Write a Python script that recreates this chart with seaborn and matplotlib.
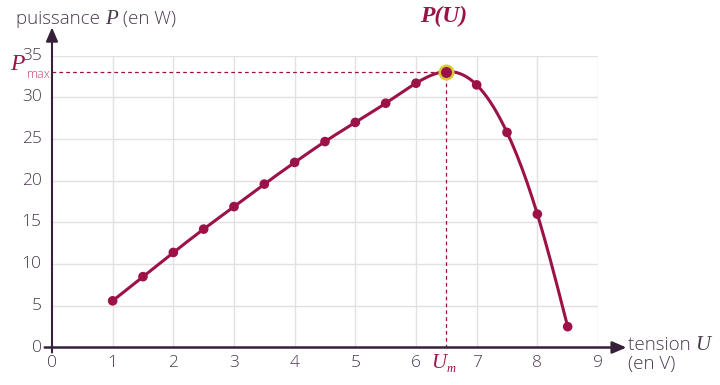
import numpy as np
import pandas as pd
import matplotlib
matplotlib.use("Agg")
import matplotlib.pyplot as plt
import seaborn as sns

# data
tension = [1, 1.5, 2, 2.5, 3, 3.5, 4, 4.5, 5, 5.5, 6, 6.5, 7, 7.5, 8, 8.5]
puissance = [5.6, 8.5, 11.4, 14.2, 16.9, 19.6, 22.2, 24.7, 27.0, 29.3, 31.7, 33.1, 31.5, 25.8, 16.0, 2.5]
u_max = 6.5
p_max = 33.1
x_ticks = [0, 1, 2, 3, 4, 5, 6, 7, 8, 9]
y_ticks = [0, 5, 10, 15, 20, 25, 30, 35]

crimson = "#9c1248"
txt = "#4a3a4e"
axis_col = "#35213a"
grid_col = "#e4e0e4"
serif = "Liberation Serif"


def natural_spline(x, y, n=400):
    x = np.asarray(x, float)
    y = np.asarray(y, float)
    k = len(x)
    h = np.diff(x)
    A = np.zeros((k, k))
    b = np.zeros(k)
    A[0, 0] = A[-1, -1] = 1
    for i in range(1, k - 1):
        A[i, i - 1] = h[i - 1]
        A[i, i] = 2 * (h[i - 1] + h[i])
        A[i, i + 1] = h[i]
        b[i] = 6 * ((y[i + 1] - y[i]) / h[i] - (y[i] - y[i - 1]) / h[i - 1])
    m = np.linalg.solve(A, b)
    xs = np.linspace(x[0], x[-1], n)
    idx = np.clip(np.searchsorted(x, xs) - 1, 0, k - 2)
    x0, x1 = x[idx], x[idx + 1]
    hh = x1 - x0
    t0, t1 = x1 - xs, xs - x0
    ys = (m[idx] * t0**3 + m[idx + 1] * t1**3) / (6 * hh) \
        + (y[idx] / hh - m[idx] * hh / 6) * t0 + (y[idx + 1] / hh - m[idx + 1] * hh / 6) * t1
    return xs, ys


def text_run(fig, x_px, y_px, pieces):
    # pieces: (string, kwargs) placed one after the other in pixels
    r = fig.canvas.get_renderer()
    x = x_px
    for s, kw in pieces:
        t = fig.text(x / 720, 1 - y_px / 385, s, ha="left", va="center", **kw)
        x = t.get_window_extent(r).x1 + 0


sns.set_theme(style="white")
plt.rcParams["font.family"] = ["Open Sans", "DejaVu Sans"]

df = pd.DataFrame({"U": tension, "P": puissance})
xs, ys = natural_spline(tension, puissance)
smooth = pd.DataFrame({"U": xs, "P": ys})

fig = plt.figure(figsize=(7.2, 3.85), dpi=100)
ax = fig.add_axes([52 / 720, 1 - 347.5 / 385, 546 / 720, 291.8 / 385])

for v in x_ticks[1:]:
    ax.axvline(v, color=grid_col, lw=1, zorder=0)
for v in y_ticks[1:]:
    ax.axhline(v, color=grid_col, lw=1, zorder=0)

ax.plot([0, u_max], [p_max, p_max], ls=(0, (3, 2.5)), color=crimson, lw=0.9, zorder=1)
ax.plot([u_max, u_max], [0, p_max], ls=(0, (3, 2.5)), color=crimson, lw=0.9, zorder=1)

sns.lineplot(data=smooth, x="U", y="P", ax=ax, color=crimson, lw=2.2, zorder=3)
sns.scatterplot(data=df, x="U", y="P", ax=ax, color=crimson, s=48, edgecolor="none", zorder=4)
ax.scatter([u_max], [p_max], s=95, color=crimson, edgecolor="#d8cc30", linewidth=1.8, zorder=5)

ax.set_xlim(0, 9)
ax.set_ylim(0, 35)
for s in ax.spines.values():
    s.set_visible(False)
ax.set_xlabel("")
ax.set_ylabel("")
ax.set_xticks([])
ax.set_yticks([])

# axes with arrows
ax.annotate("", xy=(9.47, 0), xytext=(-0.12, 0), xycoords="data", annotation_clip=False,
            arrowprops=dict(arrowstyle="-|>,head_length=0.7,head_width=0.3", color=axis_col, lw=1.8,
                            shrinkA=0, shrinkB=0))
ax.annotate("", xy=(0, 38.4), xytext=(0, -0.6), xycoords="data", annotation_clip=False,
            arrowprops=dict(arrowstyle="-|>,head_length=0.7,head_width=0.3", color=axis_col, lw=1.5,
                            shrinkA=0, shrinkB=0))

light = dict(fontsize=12.5, color=txt, fontweight="light")
for v in x_ticks:
    ax.text(v, -1.8, str(v), ha="center", va="center", **light)
for v in y_ticks:
    ax.text(-0.17, v, str(v), ha="right", va="center", **light)

ax.text(u_max, -1.9, "U", ha="right", va="center", fontsize=15, color=crimson,
        family=serif, style="italic")
ax.text(u_max, -2.6, "m", ha="left", va="center", fontsize=9, color=crimson,
        family=serif, style="italic")
fig.text(25 / 720, 1 - 65 / 385, "P", ha="right", va="center", fontsize=17, color=crimson,
         family=serif, style="italic")
fig.text(27 / 720, 1 - 75 / 385, "max", ha="left", va="center", fontsize=9, color="#c0406e",
         fontweight="light")

lab = dict(fontsize=13.5, color=txt, fontweight="light")
ital = dict(fontsize=15, color=txt, family=serif, style="italic")
text_run(fig, 16, 19, [("puissance ", lab), ("P", ital), (" (en W)", lab)])
text_run(fig, 628, 345, [("tension ", lab), ("U", ital)])
fig.text(628 / 720, 1 - 364 / 385, "(en V)", ha="left", va="center", **lab)

fig.text(444 / 720, 1 - 16 / 385, "P(U)", ha="center", va="center", fontsize=17,
         color=crimson, family=serif, style="italic", fontweight="bold")

fig.savefig("out.png", dpi=100)
